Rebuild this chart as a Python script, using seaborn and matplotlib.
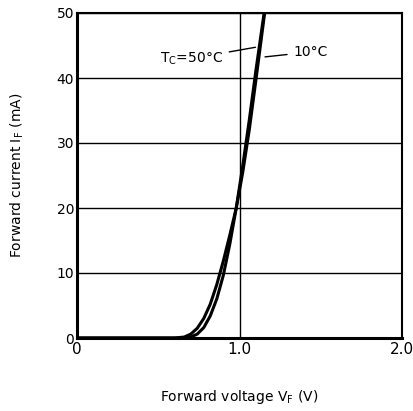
import numpy as np
import pandas as pd
import matplotlib
matplotlib.use("Agg")
import matplotlib.pyplot as plt
import seaborn as sns

# Data
v_50 = [0.0, 0.60, 0.66, 0.70, 0.74, 0.78, 0.82, 0.86, 0.90, 0.94, 0.98, 1.02, 1.06, 1.10, 1.16]
i_50 = [0.0, 0.0, 0.15, 0.6, 1.5, 3.0, 5.2, 8.2, 11.8, 15.8, 20.0, 25.5, 32.0, 39.5, 51.0]
v_10 = [0.0, 0.64, 0.70, 0.74, 0.78, 0.82, 0.86, 0.90, 0.94, 0.98, 1.02, 1.06, 1.10, 1.16]
i_10 = [0.0, 0.0, 0.15, 0.6, 1.6, 3.4, 6.0, 9.6, 14.4, 20.0, 26.5, 33.5, 41.0, 51.5]
x_ticks = [0, 1.0, 2.0]
x_tick_labels = ["0", "1.0", "2.0"]
y_ticks = [0, 10, 20, 30, 40, 50]

df = pd.concat([
    pd.DataFrame({"V": v_50, "I": i_50, "T": "50"}),
    pd.DataFrame({"V": v_10, "I": i_10, "T": "10"}),
])

sns.set_style("white")
plt.rcParams['font.family'] = ['DejaVu Sans']
plt.rcParams['text.color'] = 'black'
plt.rcParams['axes.labelcolor'] = 'black'
plt.rcParams['xtick.color'] = 'black'
plt.rcParams['ytick.color'] = 'black'

fig = plt.figure(figsize=(4.13, 4.11), dpi=100)
ax = fig.add_axes([77/413, 73/411, 325/413, 325/411])

sns.lineplot(data=df, x="V", y="I", units="T", estimator=None, sort=False,
             color="black", linewidth=2.2, ax=ax, legend=False)

ax.set_xlim(0, 2.0)
ax.set_ylim(0, 50)
ax.set_xticks(x_ticks)
ax.set_xticklabels(x_tick_labels, fontsize=11)
ax.set_yticks(y_ticks)
ax.tick_params(axis="y", labelsize=10, length=3, direction="in", width=1.2, pad=2)
ax.tick_params(axis="x", length=0, pad=3)

for y in y_ticks[1:]:
    ax.axhline(y, color="black", linewidth=1.0, zorder=0)
ax.axvline(1.0, color="black", linewidth=1.0, zorder=0)

for side, lw in [("left", 2.2), ("bottom", 2.2), ("top", 1.5), ("right", 1.5)]:
    ax.spines[side].set_visible(True)
    ax.spines[side].set_color("black")
    ax.spines[side].set_linewidth(lw)

ax.set_xlabel("Forward voltage V$_\\mathrm{F}$ (V)", fontsize=10, labelpad=22)
ax.set_ylabel("Forward current I$_\\mathrm{F}$ (mA)", fontsize=10, labelpad=22)

ax.annotate("T$_\\mathrm{C}$=50°C", xy=(1.115, 44.8), xytext=(0.90, 43.0),
            ha="right", va="center", fontsize=10,
            arrowprops=dict(arrowstyle="-", color="black", lw=1.0))
ax.annotate("10°C", xy=(1.14, 43.2), xytext=(1.33, 44.0),
            ha="left", va="center", fontsize=10,
            arrowprops=dict(arrowstyle="-", color="black", lw=1.0))

fig.savefig("out.png", dpi=100)
